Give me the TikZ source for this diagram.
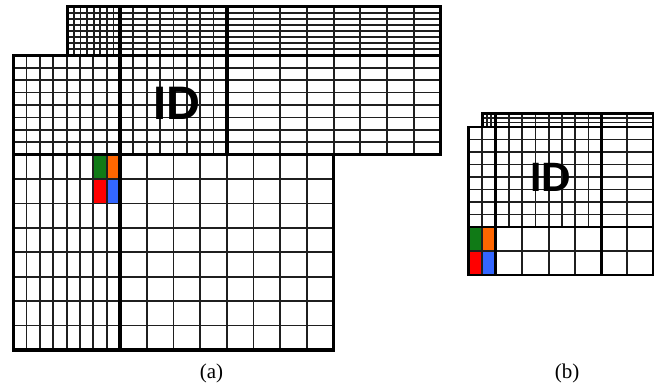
\documentclass[tikz,border=0pt]{standalone}
\usepackage{fontspec}
\setmainfont{Liberation Serif}
\newfontfamily\idfont{Liberation Sans}
\definecolor{cgreen}{RGB}{16,122,22}
\definecolor{corange}{RGB}{255,102,0}
\definecolor{cred}{RGB}{255,0,0}
\definecolor{cblue}{RGB}{51,102,255}
\newcommand{\gblk}[6]{%
  \foreach \i in {0,...,#5}{\draw[gridline] ({#1+(#3-#1)*\i/#5},#2) -- ({#1+(#3-#1)*\i/#5},#4);}%
  \foreach \j in {0,...,#6}{\draw[gridline] (#1,{#2+(#4-#2)*\j/#6}) -- (#3,{#2+(#4-#2)*\j/#6});}%
}
\begin{document}
\begin{tikzpicture}[x=1pt,y=-1pt,
  gridline/.style={line width=1.8pt,black!88},
  thickline/.style={line width=3.4pt,black,line join=miter},
  idtext/.style={font=\idfont\bfseries\fontsize{47}{47}\selectfont,inner sep=0pt},
  idtextb/.style={font=\idfont\bfseries\fontsize{41}{41}\selectfont,inner sep=0pt},
  caption/.style={font=\fontsize{21}{21}\selectfont,inner sep=0pt}]
\useasboundingbox[fill=white] (0,0) rectangle (662,388);
% ---------- (a) ----------
\fill[cgreen]  (93.9,154.7) rectangle (106.95,179.1);
\fill[corange] (106.95,154.7) rectangle (120,179.1);
\fill[cred]    (93.9,179.1) rectangle (106.95,203.5);
\fill[cblue]   (106.95,179.1) rectangle (120,203.5);
\gblk{67.2}{6.5}{120}{55.3}{8}{8}
\gblk{120}{6.5}{226.8}{55.3}{8}{8}
\gblk{226.8}{6.5}{440.4}{55.3}{8}{8}
\gblk{13.2}{55.3}{120}{154.7}{8}{8}
\gblk{120}{55.3}{226.8}{154.7}{8}{8}
\gblk{226.8}{55.3}{440.4}{154.7}{8}{8}
\gblk{13.2}{154.7}{120}{350}{8}{8}
\gblk{120}{154.7}{333.6}{350}{8}{8}
\draw[thickline] (67.2,6.5) -- (440.4,6.5) -- (440.4,154.7) -- (333.6,154.7) -- (333.6,350) -- (13.2,350) -- (13.2,55.3) -- (67.2,55.3) -- cycle;
\draw[thickline] (13.2,55.3) -- (440.4,55.3);
\draw[thickline] (13.2,154.7) -- (440.4,154.7);
\draw[thickline] (120,6.5) -- (120,350);
\draw[thickline] (226.8,6.5) -- (226.8,154.7);
\node[idtext] (ida) at (176.5,103.5) {ID};
\node[caption] (capa) at (211.5,373) {(a)};
% ---------- (b) ----------
\fill[cgreen]  (468.5,227) rectangle (482.1,251);
\fill[corange] (482.1,227) rectangle (495.7,251);
\fill[cred]    (468.5,251) rectangle (482.1,275);
\fill[cblue]   (482.1,251) rectangle (495.7,275);
\gblk{482.1}{113.7}{495.7}{127}{3}{3}
\gblk{495.7}{113.7}{601.7}{127}{8}{3}
\gblk{601.7}{113.7}{652.9}{127}{2}{3}
\gblk{468.5}{127}{495.7}{227}{2}{8}
\gblk{495.7}{127}{601.7}{227}{8}{8}
\gblk{601.7}{127}{652.9}{227}{2}{8}
\gblk{468.5}{227}{495.7}{275}{2}{2}
\gblk{495.7}{227}{601.7}{275}{4}{2}
\gblk{601.7}{227}{652.9}{275}{2}{2}
\draw[thickline,line width=2.8pt] (482.1,113.7) -- (652.9,113.7) -- (652.9,275) -- (468.5,275) -- (468.5,127) -- (482.1,127) -- cycle;
\draw[thickline,line width=2.8pt] (468.5,127) -- (652.9,127);
\draw[thickline,line width=2.8pt] (468.5,227) -- (652.9,227);
\draw[thickline,line width=2.8pt] (495.7,113.7) -- (495.7,275);
\draw[thickline,line width=2.8pt] (601.7,113.7) -- (601.7,275);
\node[idtextb] (idb) at (550.5,177.5) {ID};
\node[caption] (capb) at (567,373) {(b)};
\end{tikzpicture}
\end{document}
